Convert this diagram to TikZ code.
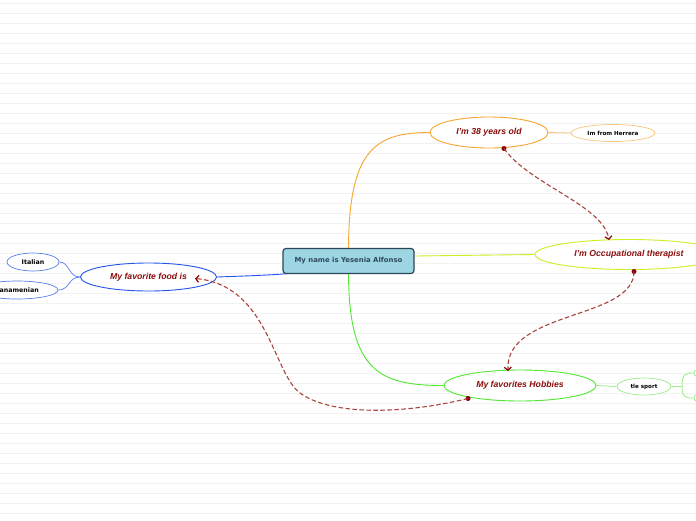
\documentclass[tikz,border=0pt]{standalone}
\usepackage{fontspec}
\setmainfont{Liberation Sans}
\newfontfamily\lblfont{DejaVu Sans}
\usetikzlibrary{shapes.geometric,arrows.meta,backgrounds}
\definecolor{gridc}{HTML}{F2F2F2}
\definecolor{boxfill}{HTML}{9ED5E3}
\definecolor{boxdraw}{HTML}{2C4657}
\definecolor{boxtext}{HTML}{2F4A5E}
\definecolor{orangec}{HTML}{F7A530}
\definecolor{lorange}{HTML}{F8C47A}
\definecolor{yellowc}{HTML}{CCEE22}
\definecolor{greenc}{HTML}{4FE830}
\definecolor{lgreen}{HTML}{99EE88}
\definecolor{bluec}{HTML}{2255EE}
\definecolor{lblue}{HTML}{5580EE}
\definecolor{redtext}{HTML}{8B0E0E}
\definecolor{dashc}{HTML}{A8453F}
\definecolor{dotc}{HTML}{8B0000}
\tikzset{
  topic/.style={ellipse, fill=white, line width=0.9pt, inner sep=0pt,
    font=\fontsize{8.7}{10}\selectfont\bfseries\itshape, text=redtext},
  sub/.style={ellipse, fill=white, line width=0.7pt, inner sep=0pt,
    font=\lblfont\fontsize{5.6}{7}\selectfont\bfseries, text=black},
  rel/.style={dashc, line width=1.1pt, dash pattern=on 4.5pt off 2.5pt,
    -{Straight Barb[length=3pt,width=7pt,line width=1.2pt,dotc]}},
  reldot/.style={fill=dotc, draw=none, circle, inner sep=0pt, minimum size=5pt}
}
\begin{document}
\begin{tikzpicture}[x=1pt,y=-1pt]
\useasboundingbox (0,0) rectangle (696,520);
\begin{pgfonlayer}{background}
\fill[white] (0,0) rectangle (696,520);
\foreach \k in {0,...,51} {
  \draw[gridc, line width=0.8pt] (0,3.3+10*\k) -- (696,3.3+10*\k);
}
\end{pgfonlayer}

% central node
\node[rounded corners=3pt, fill=boxfill, draw=boxdraw, line width=1.2pt,
  minimum width=131pt, minimum height=25pt, inner sep=0pt,
  font=\lblfont\fontsize{6.9}{8}\selectfont\bfseries, text=boxtext] (cbox) at (348.5,261) {My name is Yesenia Alfonso};

% main topics
\node[topic, draw=orangec, minimum width=118pt, minimum height=31pt] (age) at (489,132.5) {I'm 38 years old};
\node[topic, draw=yellowc, minimum width=188pt, minimum height=30pt] (occ) at (629,254.5) {I'm Occupational therapist};
\node[topic, draw=greenc, minimum width=152pt, minimum height=31pt] (hob) at (520,385.5) {My favorites Hobbies};
\node[topic, draw=bluec, minimum width=136pt, minimum height=28pt] (food) at (148.5,277) {My favorite food is};

% subtopics
\node[sub, draw=lorange, minimum width=84pt, minimum height=17pt] (herr) at (613,133) {Im from Herrera};
\node[sub, draw=lgreen, minimum width=54pt, minimum height=17pt] (tle) at (644,386.5) {tle sport};
\node[sub, draw=lblue, minimum width=52pt, minimum height=18pt, font=\lblfont\fontsize{6.3}{8}\selectfont\bfseries] (ital) at (33,262) {Italian};
\node[sub, draw=lblue, minimum width=82pt, minimum height=18pt, font=\lblfont\fontsize{6.3}{8}\selectfont\bfseries] (pan) at (17,290) {Panamenian};
\node[sub, draw=lgreen, minimum width=50pt, minimum height=16pt] (s1) at (719,373) {};
\node[sub, draw=lgreen, minimum width=50pt, minimum height=16pt] (s2) at (719,398) {};

% connectors
\begin{pgfonlayer}{background}
\draw[orangec, line width=0.9pt] (cbox.north) .. controls (349,150) and (375,132.5) .. (age.west);
\draw[greenc, line width=0.9pt] (cbox.south) .. controls (349,372) and (380,385.5) .. (hob.west);
\draw[yellowc, line width=0.9pt] ([yshift=5pt]cbox.east) -- (occ.west);
\draw[bluec, line width=0.9pt] (cbox.center) .. controls (300,274) .. (food.east);
\draw[lorange, line width=0.8pt] (age.east) -- (herr.west);
\draw[lgreen, line width=0.8pt] (hob.east) -- (tle.west);
\coordinate (tj) at (682,386.5);
\draw[lgreen, line width=0.8pt] (tle.east) -- (tj);
\draw[lgreen, line width=0.8pt] (tj) .. controls (682,373) and (686,373) .. (s1.west);
\draw[lgreen, line width=0.8pt] (tj) .. controls (682,398) and (686,398) .. (s2.west);
\draw[lblue, line width=0.7pt] (food.west) .. controls (68,277) and (70,262) .. (ital.east);
\draw[lblue, line width=0.7pt] (food.west) .. controls (68,277) and (70,290) .. (pan.east);
\end{pgfonlayer}

% relationships
\node[reldot] (d1) at (504,148.5) {};
\node[reldot] (d2) at (634,271.5) {};
\node[reldot] (d3) at (468,398.5) {};
\coordinate (e1) at (609,240);
\coordinate (e2) at (508,371);
\coordinate (e3) at (195,278.5);
\coordinate (m3) at (300,393);
\draw[rel] (d1.center) .. controls (530,185) and (603,205) .. (e1);
\draw[rel] (d2.center) .. controls (634,320) and (505,310) .. (e2);
\draw[rel] (d3.center) .. controls (400,415) and (330,415) .. (m3) .. controls (273,373) and (268,285) .. (e3);
\end{tikzpicture}
\end{document}
